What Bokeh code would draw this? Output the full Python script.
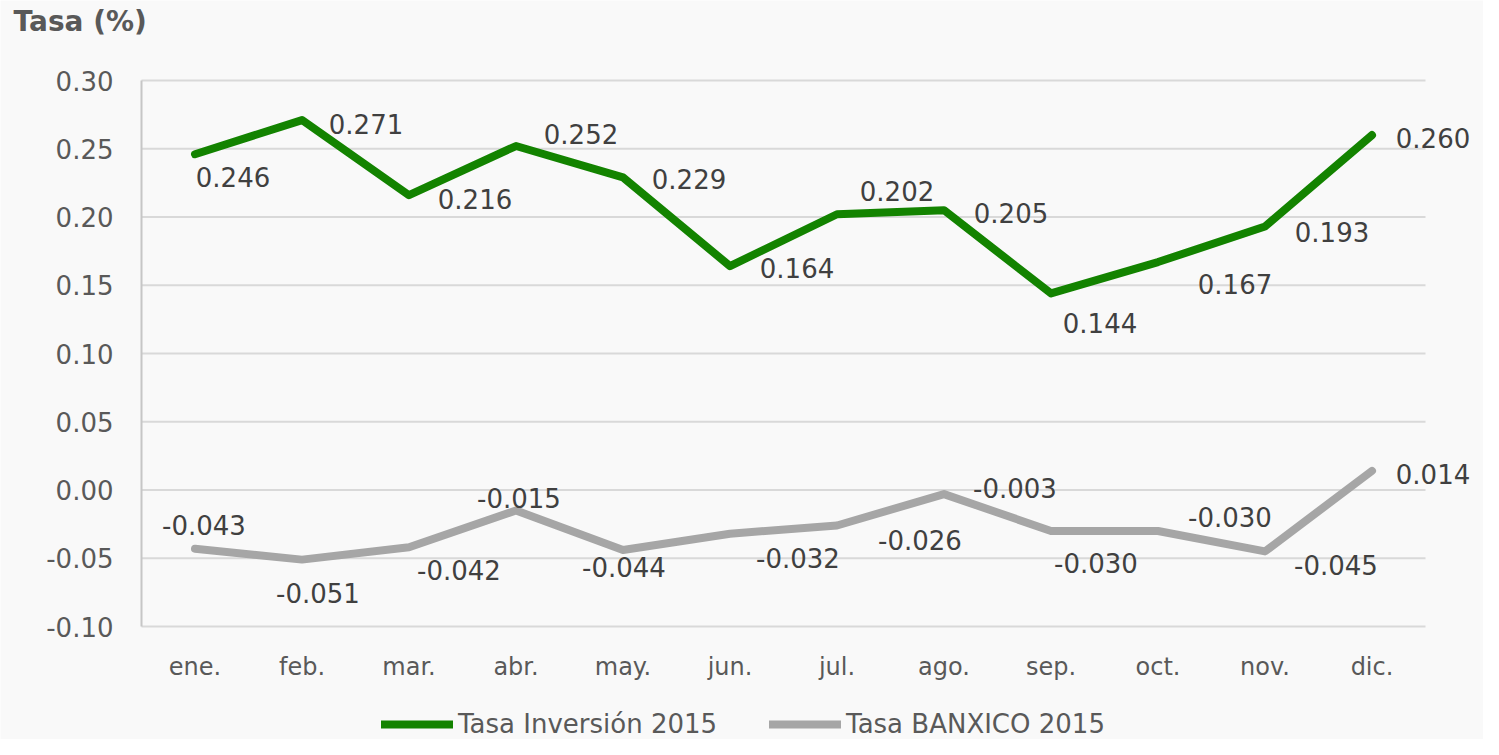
from bokeh.plotting import figure
from bokeh.models import ColumnDataSource, Range1d, Legend, LegendItem
from bokeh.core.properties import value
from bokeh.embed import file_html
from bokeh.resources import INLINE

# ---- data ----
months = ["ene.", "feb.", "mar.", "abr.", "may.", "jun.", "jul.", "ago.", "sep.", "oct.", "nov.", "dic."]
inversion = [0.246, 0.271, 0.216, 0.252, 0.229, 0.164, 0.202, 0.205, 0.144, 0.167, 0.193, 0.260]
banxico = [-0.043, -0.051, -0.042, -0.015, -0.044, -0.032, -0.026, -0.003, -0.030, -0.030, -0.045, 0.014]
series_names = ["Tasa Inversión 2015", "Tasa BANXICO 2015"]
y_ticks = [-0.10, -0.05, 0.00, 0.05, 0.10, 0.15, 0.20, 0.25, 0.30]
title_text = "Tasa (%)"

# label placement (screen px, right / down)
inv_dx = [38, 64, 66, 65, 66, 67, 60, 67, 49, 77, 67, 61]
inv_dy = [23, 4, 4, -12, 2, 2, -23, 3, 30, 22, 5, 3]
ban_dx = [9, 16, 50, 3, 1, 68, 83, 71, 45, 72, 71, 61]
ban_dy = [-24, 33, 23, -12, 17, 24, 15, -6, 32, -14, 14, 3]

GREEN = "#138300"
GRAY = "#a6a6a6"
FONT = "DejaVu Sans"
BG = "#f9f9f9"

# ---- layout (pixels) ----
W, H = 1483, 739
LEFT, TOP, BOTTOM = 141, 80, 626      # value-axis line, 0.30 gridline, -0.10 gridline
CAT_W = 107.0                          # width of one month slot

n = len(months)
xs = list(range(n))
y_lo, y_hi = y_ticks[0], y_ticks[-1]
ppu = (BOTTOM - TOP) / (y_hi - y_lo)
x0 = -0.5 - LEFT / CAT_W
x1 = -0.5 + (W - LEFT) / CAT_W
ys0 = y_lo - (H - BOTTOM) / ppu
ys1 = y_hi + TOP / ppu

p = figure(width=W, height=H, x_range=Range1d(x0, x1), y_range=Range1d(ys0, ys1),
           output_backend="svg", toolbar_location=None,
           min_border_left=0, min_border_right=0, min_border_top=0, min_border_bottom=0)
p.axis.visible = False
p.grid.visible = False
p.background_fill_color = BG
p.border_fill_color = BG
p.outline_line_color = None

# horizontal gridlines across the month span, and the value-axis line
p.segment(x0=[-0.5] * len(y_ticks), x1=[n - 0.5] * len(y_ticks), y0=y_ticks, y1=y_ticks,
          line_color="#d9d9d9", line_width=2, level="underlay")
p.segment(x0=[-0.5], x1=[-0.5], y0=[y_lo], y1=[y_hi], line_color="#c6c6c6", line_width=2,
          level="underlay")

# value-axis tick labels
p.text(x=[-0.5] * len(y_ticks), y=y_ticks, text=[f"{t:.2f}" for t in y_ticks], x_offset=-28,
       text_align="right", text_baseline="middle", text_font=value(FONT),
       text_font_size="26px", text_color="#595959")

# month labels under the bottom gridline
p.text(x=xs, y=[y_lo] * n, text=months, y_offset=40, text_align="center",
       text_baseline="middle", text_font=value(FONT), text_font_size="24px",
       text_color="#595959")

# title
p.text(x=[-0.5], y=[y_hi], text=[title_text], x_offset=13 - LEFT, y_offset=21 - TOP,
       text_align="left", text_baseline="middle", text_font=value(FONT),
       text_font_style="bold", text_font_size="28px", text_color="#595959")

src_inv = ColumnDataSource(dict(x=xs, y=inversion, t=[f"{v:.3f}" for v in inversion],
                                dx=inv_dx, dy=inv_dy))
src_ban = ColumnDataSource(dict(x=xs, y=banxico, t=[f"{v:.3f}" for v in banxico],
                                dx=ban_dx, dy=ban_dy))

r_inv = p.line("x", "y", source=src_inv, line_color=GREEN, line_width=8,
               line_cap="round", line_join="round")
r_ban = p.line("x", "y", source=src_ban, line_color=GRAY, line_width=8,
               line_cap="round", line_join="round")

for src in (src_inv, src_ban):
    p.text("x", "y", text="t", source=src, x_offset="dx", y_offset="dy",
           text_align="center", text_baseline="middle", text_font=value(FONT),
           text_font_size="26px", text_color="#404040")

legend = Legend(items=[LegendItem(label=series_names[0], renderers=[r_inv]),
                       LegendItem(label=series_names[1], renderers=[r_ban])],
                orientation="horizontal", location=(381, 0),
                glyph_width=72, glyph_height=26, label_standoff=5, spacing=52,
                padding=0, margin=0, border_line_alpha=0, background_fill_alpha=0,
                label_text_font=FONT, label_text_font_size="26px",
                label_text_color="#595959")
p.add_layout(legend, "center")

open("out.html", "w").write(file_html(p, INLINE))
